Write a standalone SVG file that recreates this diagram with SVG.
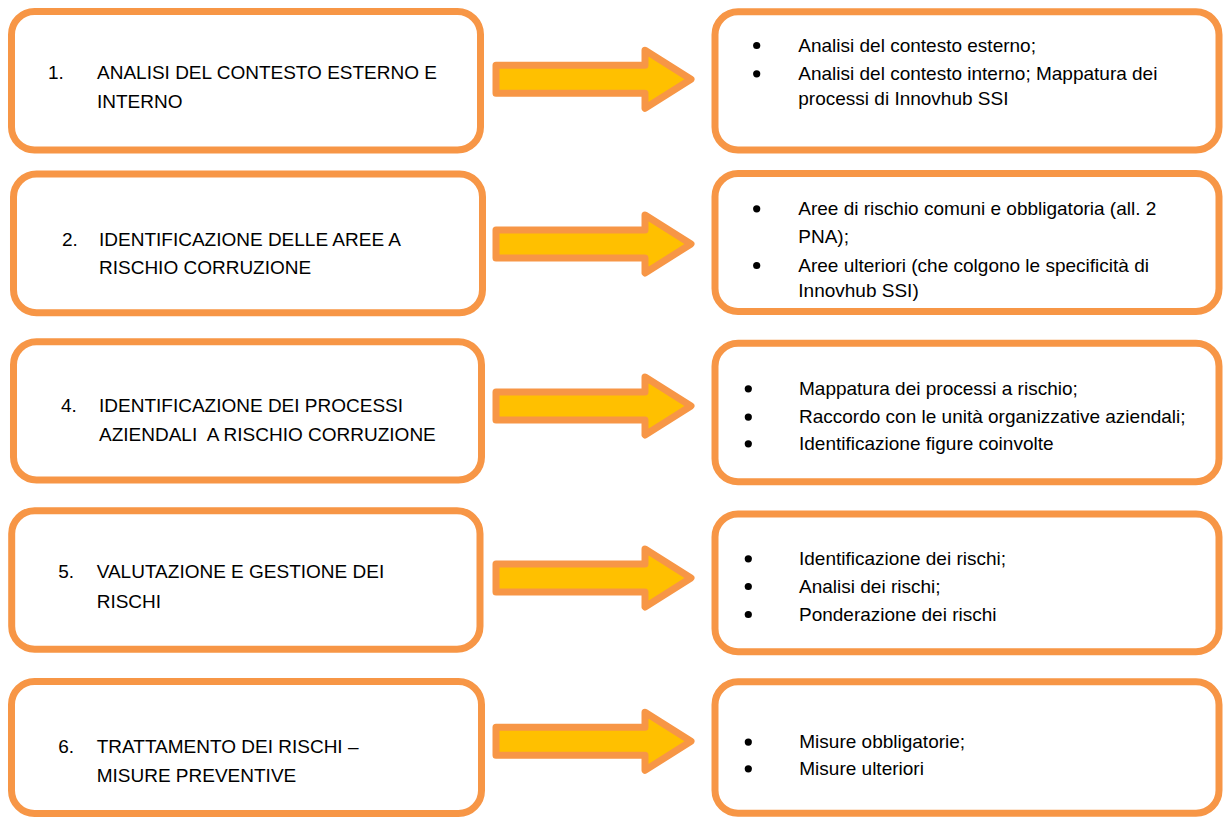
<svg xmlns="http://www.w3.org/2000/svg" width="1231" height="819" viewBox="0 0 1231 819">
<style>
.box{fill:#FFFFFF;stroke:#F79646;stroke-width:7}
.arr{fill:#FFC000;stroke:#F79646;stroke-width:7;stroke-linejoin:round}
text{font-family:"Liberation Sans",Arial,sans-serif;font-size:19px;fill:#000000}
.dot{fill:#000000}
</style>
<defs>
<path id="arrowShape" d="M496,-14 L645,-14 L645,-29 L691,0 L645,29 L645,14 L496,14 Z"/>
</defs>
<rect width="1231" height="819" fill="#FFFFFF"/>
<g id="connectors">
<use href="#arrowShape" class="arr" transform="translate(0,79.3)"/>
<use href="#arrowShape" class="arr" transform="translate(0,244)"/>
<use href="#arrowShape" class="arr" transform="translate(0,406)"/>
<use href="#arrowShape" class="arr" transform="translate(0,578)"/>
<use href="#arrowShape" class="arr" transform="translate(0,741.3)"/>
</g>
<g id="step1">
<rect class="box" x="11.5" y="11.5" width="469" height="138.5" rx="23"/>
<text x="48" y="79">1.</text>
<text x="97" y="79">ANALISI DEL CONTESTO ESTERNO E</text>
<text x="97" y="108">INTERNO</text>
</g>
<g id="step2">
<rect class="box" x="13.5" y="174" width="469" height="138.7" rx="23"/>
<text x="62" y="246">2.</text>
<text x="99" y="246">IDENTIFICAZIONE DELLE AREE A</text>
<text x="99" y="274.3">RISCHIO CORRUZIONE</text>
</g>
<g id="step4">
<rect class="box" x="13.5" y="341.7" width="468" height="138.3" rx="23"/>
<text x="61" y="411.7">4.</text>
<text x="99" y="411.7">IDENTIFICAZIONE DEI PROCESSI</text>
<text x="99" y="441" xml:space="preserve">AZIENDALI  A RISCHIO CORRUZIONE</text>
</g>
<g id="step5">
<rect class="box" x="11.7" y="510.7" width="468.3" height="138.6" rx="23"/>
<text x="58.3" y="577.7">5.</text>
<text x="96.7" y="577.7">VALUTAZIONE E GESTIONE DEI</text>
<text x="96.7" y="608.3">RISCHI</text>
</g>
<g id="step6">
<rect class="box" x="11.5" y="681.5" width="470" height="132" rx="23"/>
<text x="58.3" y="752.7">6.</text>
<text x="96.7" y="752.7">TRATTAMENTO DEI RISCHI –</text>
<text x="96.7" y="781.7">MISURE PREVENTIVE</text>
</g>
<g id="detail1">
<rect class="box" x="715" y="11.7" width="504" height="138.3" rx="23"/>
<circle class="dot" cx="756.7" cy="45.5" r="3.6"/>
<circle class="dot" cx="756.7" cy="73.8" r="3.6"/>
<text x="798.3" y="51.7">Analisi del contesto esterno;</text>
<text x="798.3" y="80">Analisi del contesto interno; Mappatura dei</text>
<text x="798.3" y="105">processi di Innovhub SSI</text>
</g>
<g id="detail2">
<rect class="box" x="715" y="173.5" width="504" height="138" rx="23"/>
<circle class="dot" cx="756.7" cy="208.8" r="3.6"/>
<circle class="dot" cx="756.7" cy="265.5" r="3.6"/>
<text x="798.3" y="215">Aree di rischio comuni e obbligatoria (all. 2</text>
<text x="798.3" y="243.3">PNA);</text>
<text x="798.3" y="271.7">Aree ulteriori (che colgono le specificità di</text>
<text x="798.3" y="296.7">Innovhub SSI)</text>
</g>
<g id="detail4">
<rect class="box" x="715" y="343.3" width="504" height="138.4" rx="23"/>
<circle class="dot" cx="748.3" cy="388.8" r="3.6"/>
<circle class="dot" cx="748.3" cy="417.1" r="3.6"/>
<circle class="dot" cx="748.3" cy="443.8" r="3.6"/>
<text x="799" y="395">Mappatura dei processi a rischio;</text>
<text x="799" y="423.3">Raccordo con le unità organizzative aziendali;</text>
<text x="799" y="450">Identificazione figure coinvolte</text>
</g>
<g id="detail5">
<rect class="box" x="715" y="514" width="504" height="137.7" rx="23"/>
<circle class="dot" cx="748.3" cy="558.8" r="3.6"/>
<circle class="dot" cx="748.3" cy="586.5" r="3.6"/>
<circle class="dot" cx="748.3" cy="614.5" r="3.6"/>
<text x="799" y="565">Identificazione dei rischi;</text>
<text x="799" y="592.7">Analisi dei rischi;</text>
<text x="799" y="620.7">Ponderazione dei rischi</text>
</g>
<g id="detail6">
<rect class="box" x="715" y="681.7" width="504" height="131.6" rx="23"/>
<circle class="dot" cx="748.3" cy="742.1" r="3.6"/>
<circle class="dot" cx="748.3" cy="768.8" r="3.6"/>
<text x="799.3" y="748.3">Misure obbligatorie;</text>
<text x="799.3" y="775">Misure ulteriori</text>
</g>
</svg>
